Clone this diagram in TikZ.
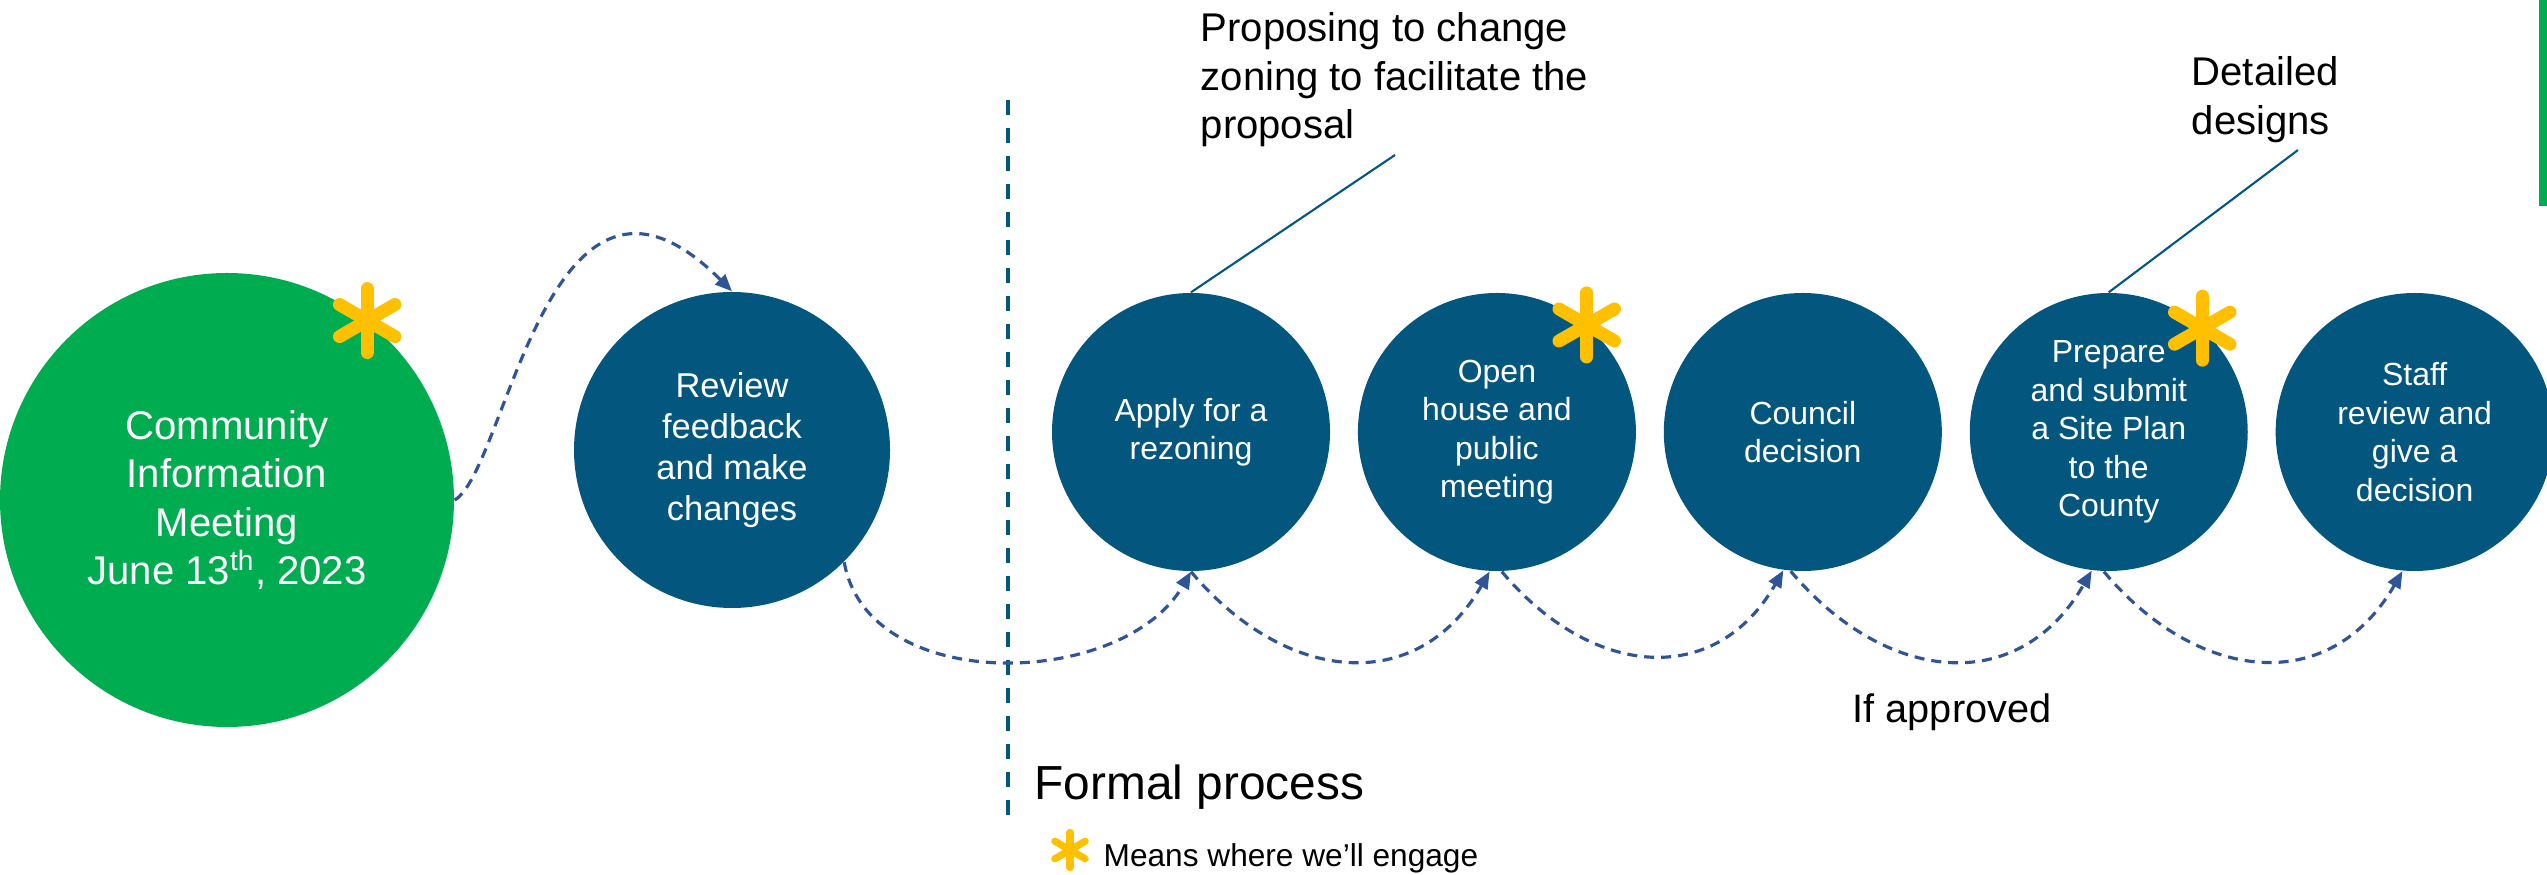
\documentclass[tikz,border=0pt]{standalone}
\usepackage{fontspec}
\setmainfont{Liberation Sans}
\usepackage{xcolor}
\usepackage{tikz}
\usetikzlibrary{positioning}
\usetikzlibrary{arrows.meta}
\definecolor{stepblue}{RGB}{3,87,127}
\definecolor{cimgreen}{RGB}{0,172,80}
\definecolor{flowblue}{RGB}{47,85,151}
\definecolor{engagegold}{RGB}{255,192,0}
\tikzset{>={Triangle[length=1.7mm,width=1.4mm]}}
\tikzset{
  stage/.style = {circle, fill=stepblue, text=white, align=center, inner sep=0pt,
    minimum size=2.78cm, font=\fontsize{9.1}{10.95}\selectfont},
  flow/.style = {->, flowblue, line width=0.9pt, dash pattern=on 1mm off 0.7mm},
  note/.style = {align=left, inner sep=0pt, font=\fontsize{11.4}{13.8}\selectfont},
  % six armed asterisk, #1 is the size factor
  pics/engage/.style = {code={
    \foreach \a in {90,30,150}
      \draw [engagegold, line cap=round, line width=#1*1.3mm] (\a:{#1*3.2mm}) -- (\a+180:{#1*3.2mm});
  }}
}

\begin{document}
\begin{tikzpicture}[node distance = 0.265cm]
        \useasboundingbox (0,0) rectangle (25.47,8.75);

        \node [stage, fill=cimgreen, minimum size=4.54cm, font=\fontsize{11.4}{13.7}\selectfont] (cim) at (2.27,3.75) {Community\\Information\\Meeting\\June 13\textsuperscript{th}, 2023};
        \node [stage, minimum size=3.16cm, font=\fontsize{9.8}{11.7}\selectfont] (review) at (7.32,4.25) {Review\\feedback\\and make\\changes};
        \node [stage] (apply) at (11.91,4.43) {Apply for a\\rezoning};
        \node [stage, right = of apply] (open) {Open\\house and\\public\\meeting};
        \node [stage, right = of open] (council) {Council\\decision};
        \node [stage, right = of council] (prep) {Prepare\\and submit\\a Site Plan\\to the\\County};
        \node [stage, right = of prep] (staff) {Staff\\review and\\give a\\decision};

        \pic at (cim.52) {engage=1};
        \pic at (open.50) {engage=1};
        \pic at (prep.48) {engage=1};

        % start of the formal process
        \coordinate (divtop) at (10.08,7.75);
        \coordinate (divbot) at (10.08,0.59);
        \draw [stepblue, line width=1.3pt, dash pattern=on 1.5mm off 1.3mm] (divtop) -- (divbot);

        \draw [flow] (cim.east) to [out=30, in=135, out distance=0.6cm, in distance=2.6cm] (review.north);
        \draw [flow] (review.-45) to [out=-80, in=240] (apply.south);
        \draw [flow] (apply.south) to [out=-50, in=240, looseness=1.25] (open.-93);
        \draw [flow] (open.-88) to [out=-50, in=240, looseness=1.25] (council.-98);
        \draw [flow] (council.-95) to [out=-50, in=240, looseness=1.25] (prep.-97);
        \draw [flow] (prep.-92) to [out=-50, in=240, looseness=1.25] (staff.-95);

        \node [note, anchor=north west] (propnote) at (12.00,8.63) {Proposing to change\\zoning to facilitate the\\proposal};
        \coordinate (propend) at (13.95,7.20);
        \draw [stepblue, line width=0.6pt] (apply.north) -- (propend);

        \node [note, anchor=north west] (detnote) at (21.91,8.19) {Detailed\\designs};
        \coordinate (detend) at (22.98,7.25);
        \draw [stepblue, line width=0.6pt] (prep.north) -- (detend);

        \node [anchor=base west, inner sep=0pt, font=\fontsize{11.3}{13}\selectfont] (approved) at (18.52,1.52) {If approved};
        \node [anchor=base west, inner sep=0pt, font=\fontsize{13.6}{16}\selectfont] (formal) at (10.34,0.75) {Formal process};

        \pic at (10.70,0.25) {engage=0.55};
        \node [anchor=base west, inner sep=0pt, font=\fontsize{9}{11}\selectfont] (legend) at (11.03,0.09) {Means where we’ll engage};

        \fill [cimgreen] (25.39,8.75) rectangle (25.47,6.69);
    \end{tikzpicture}
\end{document}
